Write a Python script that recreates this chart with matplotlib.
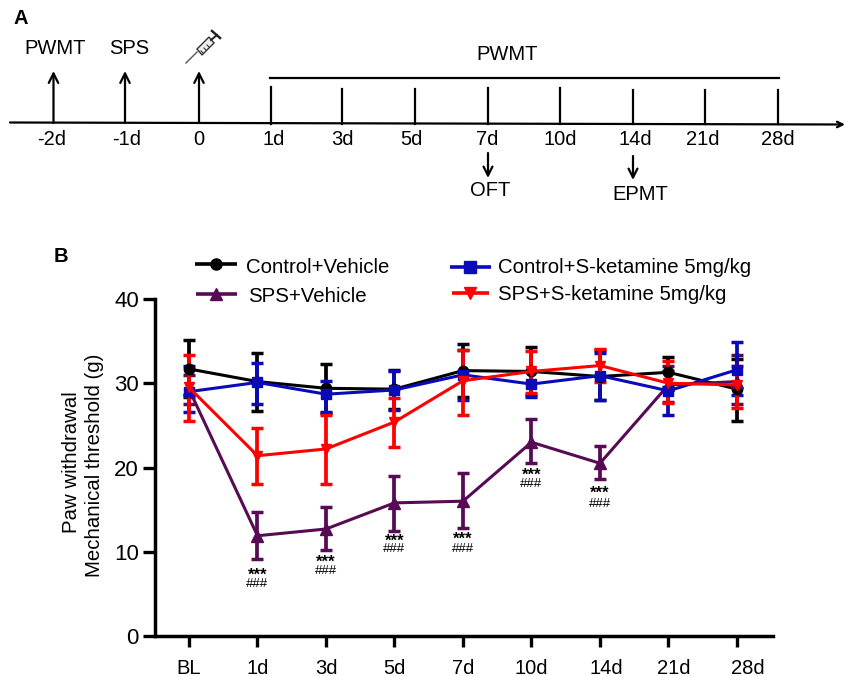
import matplotlib
matplotlib.use('Agg')
import matplotlib.pyplot as plt
from matplotlib.patches import Polygon
from matplotlib.transforms import ScaledTranslation

plt.rcParams['font.family'] = ['Liberation Sans', 'DejaVu Sans']

groups = ['BL', '1d', '3d', '5d', '7d', '10d', '14d', '21d', '28d']
# the x labels drift right of their ticks at the far end (pixels)
label_shift = [0, 0, 0, 0, 0, 0, 6, 5, 11]

control_veh = [31.7, 30.2, 29.4, 29.3, 31.5, 31.4, 30.8, 31.3, 29.3]
control_veh_hi = [35.1, 33.6, 32.3, 31.6, 34.6, 34.3, 34.0, 33.1, 32.9]
control_veh_lo = [28.4, 26.7, 26.5, 27.0, 28.4, 28.6, 28.0, 29.5, 25.5]

sps_veh = [29.3, 11.9, 12.7, 15.8, 16.0, 23.0, 20.5, 29.8, 30.2]
sps_veh_hi = [31.0, 14.7, 15.3, 19.0, 19.3, 25.7, 22.6, 32.0, 33.3]
sps_veh_lo = [27.5, 9.1, 10.2, 12.5, 12.8, 20.5, 18.6, 27.8, 27.5]

control_ket = [29.0, 30.1, 28.7, 29.2, 31.0, 29.9, 30.9, 29.1, 31.6]
control_ket_hi = [32.0, 32.4, 30.3, 31.4, 34.0, 31.5, 33.6, 31.5, 34.9]
control_ket_lo = [26.6, 27.5, 26.6, 26.8, 28.0, 28.4, 28.0, 26.2, 28.6]

sps_ket = [29.5, 21.4, 22.2, 25.4, 30.3, 31.4, 32.1, 30.0, 29.8]
sps_ket_hi = [33.3, 24.7, 26.2, 28.2, 33.9, 33.8, 34.1, 32.7, 32.0]
sps_ket_lo = [25.5, 18.0, 18.0, 22.4, 26.2, 28.8, 30.2, 27.6, 27.1]

star_groups = [1, 2, 3, 4, 5, 6]
star_y = [6.7, 8.2, 10.7, 10.95, 18.55, 16.45]
hash_y = [5.85, 7.35, 9.95, 9.95, 17.65, 15.35]

black = '#000000'
purple = '#560b54'
blue = '#0a0ab8'
red = '#ff0000'

W, H = 845, 676
fig = plt.figure(figsize=(W / 100, H / 100), dpi=100)

# full figure overlay in pixels, for panel A and the legend
bg = fig.add_axes([0, 0, 1, 1])
bg.set_xlim(0, W)
bg.set_ylim(H, 0)
bg.axis('off')

ax = fig.add_axes([155 / W, 1 - 636 / H, (773 - 155) / W, (636 - 299) / H])


def series(vals, hi, lo, col, marker, ms):
    xs = list(range(len(vals)))
    lower = [v - l for v, l in zip(vals, lo)]
    upper = [h - v for v, h in zip(vals, hi)]
    ax.errorbar(xs, vals, yerr=[lower, upper], color=col, marker=marker, ms=ms,
                lw=2.2, elinewidth=2.7, capsize=4.4, capthick=2.5, clip_on=False)


series(control_veh, control_veh_hi, control_veh_lo, black, 'o', 7.5)
series(sps_veh, sps_veh_hi, sps_veh_lo, purple, '^', 8)
series(control_ket, control_ket_hi, control_ket_lo, blue, 's', 7)
series(sps_ket, sps_ket_hi, sps_ket_lo, red, 'v', 7.5)

for g, ys, yh in zip(star_groups, star_y, hash_y):
    ax.text(g, ys, '***', fontsize=12, ha='center', va='baseline', fontweight='bold')
    ax.text(g, yh, '###', fontsize=9.5, ha='center', va='baseline')

ax.set_xlim(-0.496, 8.526)
ax.set_ylim(0, 40)
ax.set_xticks(range(len(groups)))
ax.set_xticklabels(groups)
ax.set_yticks([0, 10, 20, 30, 40])
ax.tick_params(axis='x', width=2.4, length=7.7, labelsize=14.5, pad=8.5)
ax.tick_params(axis='y', width=2.4, length=8.6, labelsize=16, pad=3)
for lab, dx in zip(ax.get_xticklabels(), label_shift):
    lab.set_transform(lab.get_transform() + ScaledTranslation(dx / 100, 0, fig.dpi_scale_trans))
for s in ['top', 'right']:
    ax.spines[s].set_visible(False)
for s in ['left', 'bottom']:
    ax.spines[s].set_linewidth(2.5)
ax.patch.set_alpha(0)

bg.text(72, 462, 'Paw withdrawal', rotation=90, ha='center', va='center', fontsize=14.7)
bg.text(95, 465.5, 'Mechanical threshold (g)', rotation=90, ha='center', va='center', fontsize=14.7)

# legend
leg_lines = [(195, 237, 264.3, black, 'o'), (196, 237, 294.3, purple, '^'),
             (450, 491, 266.7, blue, 's'), (452, 489, 292.7, red, 'v')]
for x0, x1, y, col, m in leg_lines:
    bg.plot([x0, x1], [y, y], color=col, lw=2.6, solid_capstyle='butt')
    bg.plot([(x0 + x1) / 2], [y], color=col, marker=m, ms=8)
leg_text = [(246, 267.7, 'Control+Vehicle'), (248, 296.7, 'SPS+Vehicle'),
            (498, 267.7, 'Control+S-ketamine 5mg/kg'), (498, 294.3, 'SPS+S-ketamine 5mg/kg')]
for x, y, t in leg_text:
    bg.text(x, y, t, fontsize=14.65, va='center', ha='left')

# panel letters
bg.text(14, 18.5, 'A', fontsize=14.5, fontweight='bold', va='center')
bg.text(54, 257, 'B', fontsize=14.5, fontweight='bold', va='center')

# panel A timeline
bg.annotate('', xy=(845, 124.5), xytext=(10, 122.5),
            arrowprops=dict(arrowstyle='->', lw=1.6, color='black', shrinkA=0, shrinkB=0))

up_arrows = [53.5, 125, 199]
for x in up_arrows:
    bg.annotate('', xy=(x, 71), xytext=(x, 123),
                arrowprops=dict(arrowstyle='->', lw=1.6, color='black', shrinkA=0, shrinkB=0,
                                mutation_scale=17))

tick_x = [271, 342, 415, 488, 560, 633, 705, 778]
tick_top = [87, 89, 89, 88, 88, 90, 90, 90]
for x, t in zip(tick_x, tick_top):
    bg.plot([x, x], [t, 124], color='black', lw=1.6)
bg.plot([270, 779], [78, 78], color='black', lw=1.6)

day_x = [51.5, 127, 199, 274, 342, 411, 487, 560, 635, 703, 778]
day_labels = ['-2d', '-1d', '0', '1d', '3d', '5d', '7d', '10d', '14d', '21d', '28d']
for x, t in zip(day_x, day_labels):
    bg.text(x, 139.5, t, fontsize=14.5, ha='center', va='center')

for x, y0, y1 in [(488, 153, 178), (633, 156, 180)]:
    bg.annotate('', xy=(x, y1), xytext=(x, y0),
                arrowprops=dict(arrowstyle='->', lw=1.6, color='black', shrinkA=0, shrinkB=0,
                                mutation_scale=16))

top_text = [(55, 49, 'PWMT'), (129, 49, 'SPS'), (507, 54, 'PWMT'), (490, 191, 'OFT'), (640, 194, 'EPMT')]
for x, y, t in top_text:
    bg.text(x, y, t, fontsize=14.5, ha='center', va='center')

# syringe icon
bg.plot([186, 197], [63, 52], color='#555555', lw=1)
bg.add_patch(Polygon([(197, 49), (209, 37), (214, 43), (202, 55)], fc='#eeeeee', ec='#333333', lw=1))
for a, b in [((201, 51), (203, 53)), ((204, 48), (206, 50)), ((207, 45), (209, 47))]:
    bg.plot([a[0], b[0]], [a[1], b[1]], color='#333333', lw=0.8)
bg.plot([211, 217], [40, 35], color='#222222', lw=1.4)
bg.plot([212, 220], [31, 38], color='#222222', lw=1.8)

fig.savefig('out.png', dpi=100)
